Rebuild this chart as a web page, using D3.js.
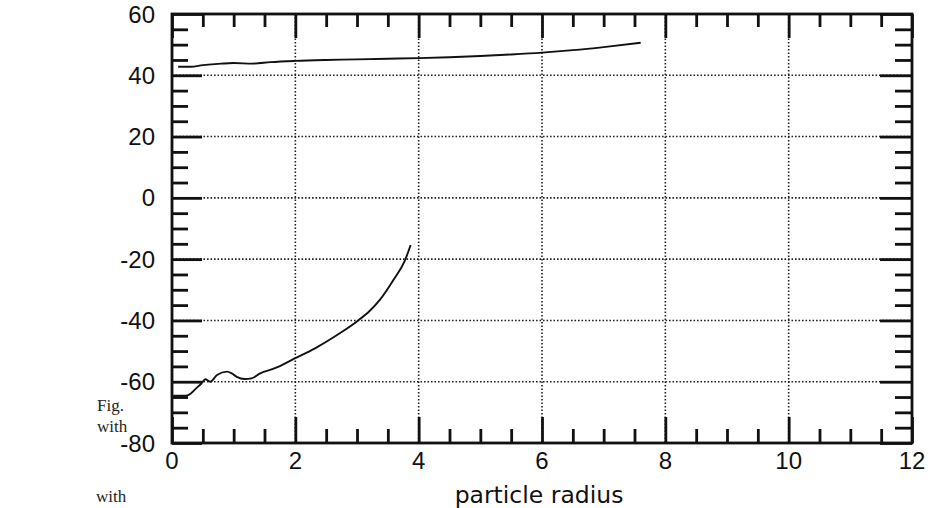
<!DOCTYPE html>
<html lang="en">
<head>
    <meta charset="utf-8">
    <title>particle radius</title>
    <script src="https://cdn.jsdelivr.net/npm/d3@7"></script>
    <style>
        body { margin: 0; background: #fff; }
        .tick-label { font-family: "Liberation Sans", Arial, sans-serif; font-size: 24px; fill: #111; }
        .axis-title { font-family: "DejaVu Sans", Verdana, sans-serif; font-size: 23.5px; fill: #111; }
        .note { font-family: "Liberation Serif", "Times New Roman", serif; font-size: 17px; fill: #222; }
    </style>
</head>
<body>
<script>
    // upper curve
    var upperX = [0.1, 0.3, 0.5, 0.8, 1.0, 1.3, 1.6, 2.0, 2.5, 3.0, 3.5, 4.0, 4.5, 5.0, 5.5, 6.0, 6.5, 7.0, 7.6];
    var upperY = [42.8, 42.8, 43.3, 43.8, 44.0, 43.8, 44.3, 44.7, 45.0, 45.2, 45.4, 45.6, 45.9, 46.3, 46.8, 47.4, 48.2, 49.2, 50.6];
    // lower curve
    var lowerX = [0.02, 0.2, 0.26, 0.4, 0.48, 0.54, 0.62, 0.73, 0.89, 0.97, 1.05, 1.18, 1.29, 1.43, 1.67, 1.99, 2.32, 2.72, 3.02, 3.2, 3.37, 3.59, 3.78, 3.87];
    var lowerY = [-64.6, -64.6, -64.4, -62.0, -60.5, -59.2, -60.0, -57.8, -56.7, -57.3, -58.4, -59.1, -58.9, -57.3, -55.6, -52.4, -49.1, -44.2, -40.0, -37.0, -33.3, -26.8, -20.3, -15.4];

    var xMajor = [0, 2, 4, 6, 8, 10, 12];
    var yMajor = [60, 40, 20, 0, -20, -40, -60, -80];
    var xGrid = [2, 4, 6, 8, 10];
    var yGrid = [40, 20, 0, -20, -40, -60];
    var xMinor = d3.range(0.5, 12, 0.5).filter(function (v) { return v % 2 !== 0; });
    var yMinor = d3.range(-75, 60, 5).filter(function (v) { return v % 20 !== 0; });
    var notes = ["Fig.", "with", "with"];

    var width = 928, height = 508;
    var plotLeft = 172, plotTop = 14, plotRight = 912, plotBottom = 443;

    var x = d3.scaleLinear().domain([0, 12]).range([plotLeft, plotRight]);
    var y = d3.scaleLinear().domain([-80, 60]).range([plotBottom, plotTop]);

    var svg = d3.select("body").append("svg")
        .attr("width", width)
        .attr("height", height);

    // dotted grid
    svg.append("g").selectAll("line")
        .data(xGrid).enter().append("line")
        .attr("x1", function (d) { return x(d); }).attr("x2", function (d) { return x(d); })
        .attr("y1", plotTop).attr("y2", plotBottom)
        .attr("stroke", "#222").attr("stroke-width", 1.6).attr("stroke-dasharray", "1.6,1.9");
    svg.append("g").selectAll("line")
        .data(yGrid).enter().append("line")
        .attr("x1", plotLeft).attr("x2", plotRight)
        .attr("y1", function (d) { return y(d); }).attr("y2", function (d) { return y(d); })
        .attr("stroke", "#222").attr("stroke-width", 1.6).attr("stroke-dasharray", "1.6,1.9");

    // inward ticks on all four sides
    function ticks(axis, values, size, tx, ty) {
        var g = svg.append("g")
            .attr("transform", "translate(" + tx + "," + ty + ")")
            .call(axis.tickValues(values).tickSize(size).tickFormat(""));
        g.select(".domain").remove();
        g.selectAll("line").attr("stroke", "#111").attr("stroke-width", 2.8);
        return g;
    }
    ticks(d3.axisBottom(x), xMajor, -26, 0, plotBottom);
    ticks(d3.axisBottom(x), xMinor, -14, 0, plotBottom);
    ticks(d3.axisTop(x), xMajor, -24, 0, plotTop);
    ticks(d3.axisTop(x), xMinor, -13, 0, plotTop);
    ticks(d3.axisLeft(y), yMajor, -30, plotLeft, 0);
    ticks(d3.axisLeft(y), yMinor, -16, plotLeft, 0);
    ticks(d3.axisRight(y), yMajor, -32, plotRight, 0);
    ticks(d3.axisRight(y), yMinor, -17, plotRight, 0);

    // frame
    svg.append("rect")
        .attr("x", plotLeft).attr("y", plotTop)
        .attr("width", plotRight - plotLeft).attr("height", plotBottom - plotTop)
        .attr("fill", "none").attr("stroke", "#111").attr("stroke-width", 2.8);

    // tick labels
    svg.append("g").selectAll("text")
        .data(yMajor).enter().append("text")
        .attr("class", "tick-label")
        .attr("x", 155)
        .attr("y", function (d) { return y(d) + 8.5; })
        .attr("text-anchor", "end")
        .text(function (d) { return d; });
    svg.append("g").selectAll("text")
        .data(xMajor).enter().append("text")
        .attr("class", "tick-label")
        .attr("x", function (d) { return x(d); })
        .attr("y", 469)
        .attr("text-anchor", "middle")
        .text(function (d) { return d; });

    svg.append("text")
        .attr("class", "axis-title")
        .attr("x", (plotLeft + plotRight) / 2 - 3)
        .attr("y", 503)
        .attr("text-anchor", "middle")
        .text("particle radius");

    // curves
    var line = d3.line()
        .x(function (d) { return x(d[0]); })
        .y(function (d) { return y(d[1]); })
        .curve(d3.curveMonotoneX);

    svg.append("path")
        .datum(d3.zip(upperX, upperY))
        .attr("d", line)
        .attr("fill", "none").attr("stroke", "#111").attr("stroke-width", 1.9);
    svg.append("path")
        .datum(d3.zip(lowerX, lowerY))
        .attr("d", line)
        .attr("fill", "none").attr("stroke", "#111").attr("stroke-width", 1.9);

    // stray caption text at the left
    svg.append("g").selectAll("text")
        .data(notes).enter().append("text")
        .attr("class", "note")
        .attr("x", function (d, i) { return i === 2 ? 96 : 97; })
        .attr("y", function (d, i) { return [411, 432, 502][i]; })
        .text(function (d) { return d; });
</script>
</body>
</html>
